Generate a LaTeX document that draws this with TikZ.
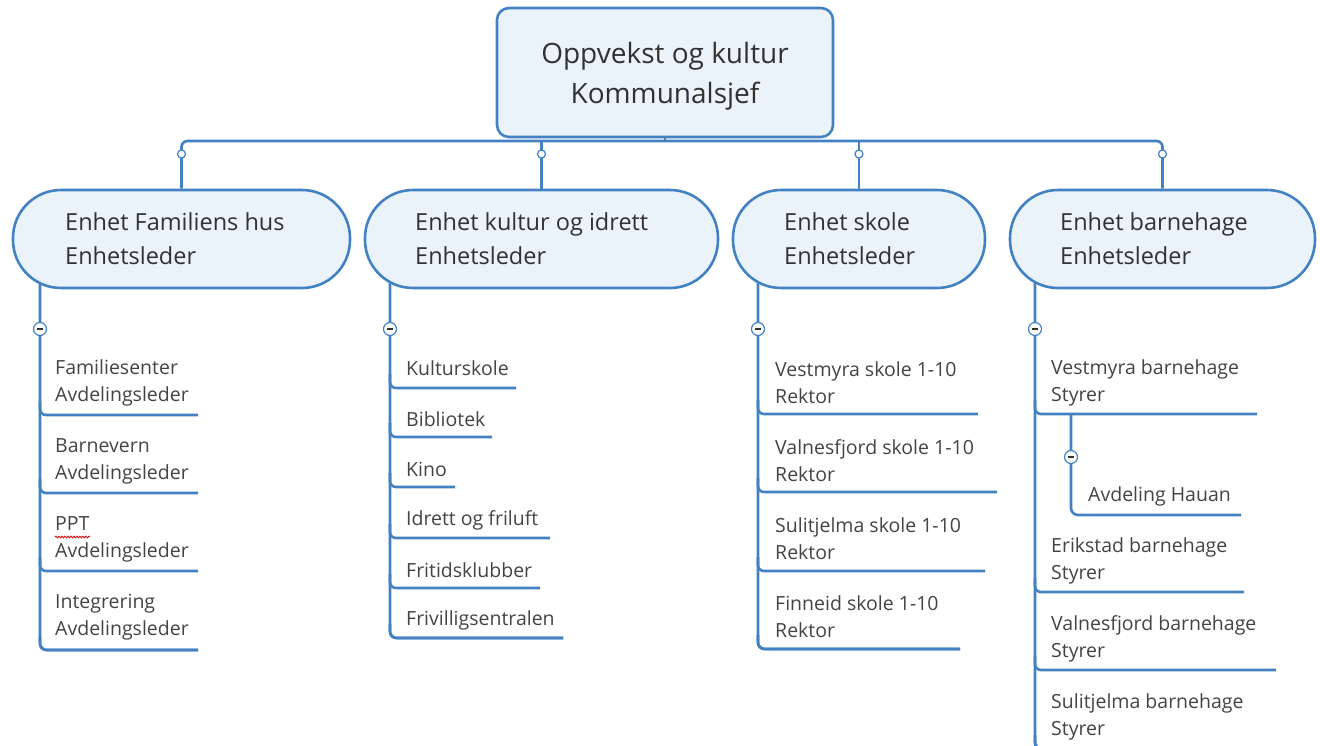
\documentclass[tikz,border=0pt]{standalone}
\usepackage{fontspec}
\setmainfont{Open Sans}
\usetikzlibrary{backgrounds,decorations.pathmorphing}
\definecolor{lineblue}{RGB}{66,130,194}
\definecolor{boxfill}{RGB}{234,242,250}
\definecolor{textdark}{RGB}{50,50,50}
\definecolor{textgray}{RGB}{68,68,68}
\tikzset{
 conn/.style={draw=lineblue, line width=2.6pt},
 rootbox/.style={draw=lineblue, line width=2.6pt, fill=boxfill, rounded corners=12pt,
   minimum width=336pt, minimum height=129pt, inner sep=0pt},
 roottext/.style={align=center, inner sep=0pt, text=textdark,
   font={\fontsize{28}{40}\selectfont}},
 branchbox/.style={draw=lineblue, line width=2.6pt, fill=boxfill, rounded corners=48pt,
   minimum height=98pt, inner sep=0pt},
 btext/.style={anchor=west, align=left, inner sep=0pt, text=textdark,
   font={\fontsize{23.5}{34}\selectfont}},
 itext/.style={anchor=west, align=left, inner sep=0pt, text=textgray,
   font={\fontsize{19.5}{27}\selectfont}},
 smalldot/.style={circle, draw=lineblue, fill=white, line width=1.2pt, minimum size=8pt, inner sep=0pt},
 minusdot/.style={circle, draw=lineblue, fill=white, line width=1.2pt, minimum size=13pt, inner sep=0pt,
   path picture={\draw[textdark, line width=1.6pt] ([xshift=-3pt]path picture bounding box.center) -- ([xshift=3pt]path picture bounding box.center);}}
}
\begin{document}
\begin{tikzpicture}[x=1pt,y=-1pt]
\useasboundingbox (0,0) rectangle (1320,745);
\clip (0,0) rectangle (1320,745);

% root
\node[rootbox] (root) at (665,72.5) {};
\node[roottext] (roottxt) at (665,76) {Oppvekst og kultur\\Kommunalsjef};

% branches
\node[branchbox, minimum width=337pt] (b1) at (181.5,239) {};
\node[branchbox, minimum width=353pt] (b2) at (541.5,239) {};
\node[branchbox, minimum width=252pt] (b3) at (859,239) {};
\node[branchbox, minimum width=305pt] (b4) at (1162.5,239) {};
\node[btext] (b1t) at (65,239) {Enhet Familiens hus\\Enhetsleder};
\node[btext] (b2t) at (415,239) {Enhet kultur og idrett\\Enhetsleder};
\node[btext] (b3t) at (784,239) {Enhet skole\\Enhetsleder};
\node[btext] (b4t) at (1060,239) {Enhet barnehage\\Enhetsleder};

\coordinate (bus) at (665,141);
\begin{pgfonlayer}{background}
\fill[white] (0,0) rectangle (1320,745);
\draw[conn] (root.south) -- (bus);
\draw[conn, rounded corners=6pt] (b1.north) |- (bus) -| (b4.north);
\draw[conn] (b2.north) -- (b2.north |- bus);
\draw[conn] (b3.north) -- (b3.north |- bus);
% vertical child lines
\draw[conn, rounded corners=7pt] (40,280) |- (198,650);
\draw[conn, rounded corners=7pt] (390,280) |- (563,638);
\draw[conn, rounded corners=7pt] (758,280) |- (960,649);
\draw[conn, rounded corners=7pt] (1035,280) |- (1280,749);
\end{pgfonlayer}
\foreach \b in {b1,b2,b3,b4} {\node[smalldot] at (\b.north |- 0,154) {};}

% branch 1 items
\foreach \i/\txt/\cy/\uy/\ex in {1/{Familiesenter\\Avdelingsleder}/383/415/198,
  2/{Barnevern\\Avdelingsleder}/461/493/198,
  3/{PPT\\Avdelingsleder}/539/571/198,
  4/{Integrering\\Avdelingsleder}/617/650/198} {
  \node[itext] (ia\i) at (55,\cy) {\txt};
  \coordinate (ua\i) at (\ex,\uy);
  \draw[conn, rounded corners=6pt] (40,\uy-14) |- (ua\i);
}
\draw[red!85!black, line width=0.8pt, decorate, decoration={snake, amplitude=0.9pt, segment length=3pt}] (55,537) -- (90,537);
\node[minusdot] (m1) at (40,329) {};

% branch 2 items
\foreach \i/\txt/\cy/\uy/\ex in {1/Kulturskole/368/388/516,
  2/Bibliotek/419/437/492,
  3/Kino/469/487/455,
  4/Idrett og friluft/520/538/550,
  5/Fritidsklubber/570/588/540,
  6/Frivilligsentralen/620/638/563} {
  \node[itext] (ib\i) at (406,\cy) {\txt};
  \coordinate (ub\i) at (\ex,\uy);
  \draw[conn, rounded corners=6pt] (390,\uy-14) |- (ub\i);
}
\node[minusdot] (m2) at (390,329) {};

% branch 3 items
\foreach \i/\txt/\cy/\uy/\ex in {1/{Vestmyra skole 1-10\\Rektor}/382.5/414/978,
  2/{Valnesfjord skole 1-10\\Rektor}/460.5/492/997,
  3/{Sulitjelma skole 1-10\\Rektor}/538.5/571/985,
  4/{Finneid skole 1-10\\Rektor}/616.5/649/960} {
  \node[itext] (ic\i) at (775,\cy) {\txt};
  \coordinate (uc\i) at (\ex,\uy);
  \draw[conn, rounded corners=6pt] (758,\uy-14) |- (uc\i);
}
\node[minusdot] (m3) at (758,329) {};

% branch 4 items
\foreach \i/\txt/\cy/\uy/\ex in {1/{Vestmyra barnehage\\Styrer}/382.5/414/1257,
  2/{Erikstad barnehage\\Styrer}/560.5/592/1244,
  3/{Valnesfjord barnehage\\Styrer}/638.5/670/1276,
  4/{Sulitjelma barnehage\\Styrer}/717/749/1280} {
  \node[itext] (id\i) at (1051,\cy) {\txt};
  \coordinate (ud\i) at (\ex,\uy);
  \draw[conn, rounded corners=6pt] (1035,\uy-14) |- (ud\i);
}
% sub-branch
\node[itext] (sub) at (1088,496) {Avdeling Hauan};
\coordinate (usub) at (1241,515);
\draw[conn, rounded corners=7pt] (1071,414) |- (usub);
\node[minusdot] (m5) at (1071,457) {};
\node[minusdot] (m4) at (1035,329) {};
\end{tikzpicture}
\end{document}
